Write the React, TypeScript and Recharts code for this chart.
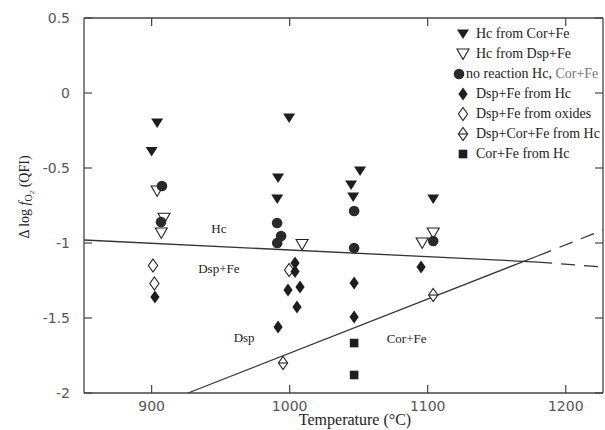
import React from "react";
import {
  ComposedChart,
  Scatter,
  XAxis,
  YAxis,
  Legend,
  ReferenceLine,
  ReferenceDot,
} from "recharts";

// temperature (°C) / delta log fO2 pairs
const hcFromCorFe = [
  { t: 904, v: -0.2 },
  { t: 900, v: -0.39 },
  { t: 999.6, v: -0.167 },
  { t: 991.6, v: -0.567 },
  { t: 991, v: -0.707 },
  { t: 1051, v: -0.52 },
  { t: 1044.5, v: -0.613 },
  { t: 1046, v: -0.693 },
  { t: 1104, v: -0.707 },
];
const hcFromDspFe = [
  { t: 904, v: -0.653 },
  { t: 909, v: -0.835 },
  { t: 907, v: -0.933 },
  { t: 1009, v: -1.01 },
  { t: 1104, v: -0.933 },
  { t: 1096, v: -1.0 },
];
const noReaction = [
  { t: 907.5, v: -0.62 },
  { t: 906.8, v: -0.86 },
  { t: 990.9, v: -0.867 },
  { t: 993.8, v: -0.953 },
  { t: 991, v: -1.0 },
  { t: 1046.7, v: -0.787 },
  { t: 1046.7, v: -1.033 },
  { t: 1104, v: -0.987 },
];
const dspFeFromHc = [
  { t: 902.4, v: -1.36 },
  { t: 1003.9, v: -1.133 },
  { t: 1003.9, v: -1.19 },
  { t: 998.8, v: -1.313 },
  { t: 1007.5, v: -1.293 },
  { t: 1005.3, v: -1.427 },
  { t: 991.6, v: -1.56 },
  { t: 1046.7, v: -1.267 },
  { t: 1046.7, v: -1.493 },
  { t: 1095.2, v: -1.16 },
];
const dspFeFromOxides = [
  { t: 901, v: -1.15 },
  { t: 902, v: -1.27 },
  { t: 999.6, v: -1.18 },
];
const dspCorFeFromHc = [
  { t: 995.2, v: -1.8 },
  { t: 1104, v: -1.347 },
];
const corFeFromHc = [
  { t: 1046.7, v: -1.667 },
  { t: 1046.7, v: -1.88 },
];

// phase boundaries: solid part, then dashed extrapolation
const hcBoundary = [
  { t: 851, v: -0.98 },
  { t: 1180, v: -1.127 },
  { t: 1227, v: -1.16 },
];
const corBoundary = [
  { t: 926.4, v: -2 },
  { t: 1180, v: -1.085 },
  { t: 1227, v: -0.913 },
];

const xTicks = [900, 1000, 1100, 1200];
const yTicks = [-2, -1.5, -1, -0.5, 0, 0.5];

const regionLabels = [
  { t: 948.7, v: -0.9, text: "Hc" },
  { t: 948.7, v: -1.167, text: "Dsp+Fe" },
  { t: 967, v: -1.627, text: "Dsp" },
  { t: 1084.7, v: -1.633, text: "Cor+Fe" },
];

const legendItems = [
  { kind: "triFill", text: "Hc from Cor+Fe" },
  { kind: "triOpen", text: "Hc from Dsp+Fe" },
  { kind: "circle", text: "no reaction Hc, Cor+Fe" },
  { kind: "diaFill", text: "Dsp+Fe from Hc" },
  { kind: "diaOpen", text: "Dsp+Fe from oxides" },
  { kind: "diaBar", text: "Dsp+Cor+Fe from Hc" },
  { kind: "square", text: "Cor+Fe from Hc" },
];

const INK = "#1e1e1e";
const AXIS = "#444";
const SERIF = "'Liberation Serif', 'Times New Roman', serif";
const TICKFONT = "'DejaVu Sans', sans-serif";
const X_MIN = 851;
const X_MAX = 1227;
const Y_MIN = -2;
const Y_MAX = 0.5;

const CHART_W = 605;
const CHART_H = 430;
const MARGIN = { top: 18, right: 2, bottom: 0, left: 0 };
const PLOT_TOP = MARGIN.top;
const PLOT_RIGHT = CHART_W - MARGIN.right;

function Glyph({ kind, cx, cy }: { kind: string; cx: number; cy: number }) {
  switch (kind) {
    case "triFill":
      return (
        <polygon
          points={`${cx - 6},${cy - 4.5} ${cx + 6},${cy - 4.5} ${cx},${cy + 5}`}
          fill={INK}
        />
      );
    case "triOpen":
      return (
        <polygon
          points={`${cx - 6},${cy - 5} ${cx + 6},${cy - 5} ${cx},${cy + 5.5}`}
          fill="#fff"
          stroke={INK}
          strokeWidth={1.1}
        />
      );
    case "circle":
      return <circle cx={cx} cy={cy} r={5.3} fill="#2a2a2a" />;
    case "diaFill":
      return (
        <polygon
          points={`${cx},${cy - 6.5} ${cx + 4.6},${cy} ${cx},${cy + 6.5} ${cx - 4.6},${cy}`}
          fill={INK}
        />
      );
    case "diaOpen":
      return (
        <polygon
          points={`${cx},${cy - 6.5} ${cx + 4.6},${cy} ${cx},${cy + 6.5} ${cx - 4.6},${cy}`}
          fill="#fff"
          stroke={INK}
          strokeWidth={1.1}
        />
      );
    case "diaBar":
      return (
        <g>
          <polygon
            points={`${cx},${cy - 6.5} ${cx + 4.6},${cy} ${cx},${cy + 6.5} ${cx - 4.6},${cy}`}
            fill="#fff"
            stroke={INK}
            strokeWidth={1.1}
          />
          <line x1={cx - 4.6} y1={cy} x2={cx + 4.6} y2={cy} stroke={INK} strokeWidth={1.1} />
        </g>
      );
    case "square":
      return <rect x={cx - 4.3} y={cy - 4.3} width={8.6} height={8.6} fill={INK} />;
    default:
      return <g />;
  }
}

const shapeOf = (kind: string) => (props: any) => {
  const { cx, cy } = props;
  if (cx == null || cy == null) return <g />;
  return <Glyph kind={kind} cx={cx} cy={cy} />;
};

// bottom tick + label, and the matching inward tick on the top frame edge
const BottomTick = (props: any) => {
  const { x, y, payload } = props;
  return (
    <g>
      <line x1={x} y1={y} x2={x} y2={y - 8} stroke={AXIS} strokeWidth={1.2} />
      <line x1={x} y1={PLOT_TOP} x2={x} y2={PLOT_TOP + 8} stroke={AXIS} strokeWidth={1.2} />
      <text x={x} y={y + 18} textAnchor="middle" fontFamily={TICKFONT} fontSize={14} fill="#555">
        {payload.value}
      </text>
    </g>
  );
};

// left tick + label, and the matching inward tick on the right frame edge
const LeftTick = (props: any) => {
  const { x, y, payload } = props;
  return (
    <g>
      <line x1={x} y1={y} x2={x + 8} y2={y} stroke={AXIS} strokeWidth={1.2} />
      <line x1={PLOT_RIGHT} y1={y} x2={PLOT_RIGHT - 8} y2={y} stroke={AXIS} strokeWidth={1.2} />
      <text x={x - 14} y={y + 5} textAnchor="end" fontFamily={TICKFONT} fontSize={14} fill="#555">
        {payload.value}
      </text>
    </g>
  );
};

// x-axis title, plus the top and right frame edges (the axis viewBox gives the plot's width and bottom)
const XTitle = (props: any) => {
  const vb = props.viewBox || {};
  const left = vb.x ?? 84;
  const right = vb.width != null ? left + vb.width : PLOT_RIGHT;
  const bottom = vb.y ?? 393;
  return (
    <g>
      <line x1={left} y1={PLOT_TOP} x2={right} y2={PLOT_TOP} stroke={AXIS} strokeWidth={1.3} />
      <line x1={right} y1={PLOT_TOP} x2={right} y2={bottom} stroke={AXIS} strokeWidth={1.3} />
      <text x={355} y={425} textAnchor="middle" fontFamily={SERIF} fontSize={16} fill="#222">
        Temperature (°C)
      </text>
    </g>
  );
};

const YTitle = () => (
  <text
    x={29}
    y={197}
    transform="rotate(-90, 29, 197)"
    textAnchor="middle"
    fontFamily={SERIF}
    fontSize={14}
    fill="#222"
  >
    Δ log <tspan fontStyle="italic">f</tspan>
    <tspan dy={3} fontSize={10}>O</tspan>
    <tspan dy={2} fontSize={7}>2</tspan>
    <tspan dy={-5}>{"  (QFI)"}</tspan>
  </text>
);

const renderLegend = () => (
  <div style={{ fontFamily: SERIF, fontSize: 14, color: "#222" }}>
    {legendItems.map((item, i) => {
      const squeeze = item.kind === "circle";
      return (
        <div
          key={item.text}
          style={{ position: "absolute", top: i * 20, left: 0, height: 20, whiteSpace: "nowrap" }}
        >
          <svg
            width={14}
            height={20}
            style={{ position: "absolute", left: squeeze ? -1 : 3, top: 0 }}
          >
            <Glyph kind={item.kind} cx={7} cy={10} />
          </svg>
          <span
            style={{
              position: "absolute",
              left: squeeze ? 13 : 23,
              top: 1,
              lineHeight: "18px",
            }}
          >
            {squeeze ? (
              <>
                no reaction Hc, <span style={{ color: "#777" }}>Cor+Fe</span>
              </>
            ) : (
              item.text
            )}
          </span>
        </div>
      );
    })}
  </div>
);

const seg = (pts: { t: number; v: number }[], a: number, b: number) => [
  { x: pts[a].t, y: pts[a].v },
  { x: pts[b].t, y: pts[b].v },
];

export default function App() {
  return (
    <div
      style={{ position: "absolute", left: 0, top: 0, width: CHART_W, height: CHART_H, background: "#fff" }}
    >
      <ComposedChart width={CHART_W} height={CHART_H} margin={MARGIN}>
        <XAxis
          type="number"
          dataKey="t"
          domain={[X_MIN, X_MAX]}
          ticks={xTicks}
          height={37}
          tickSize={0}
          tickMargin={0}
          tickLine={false}
          axisLine={{ stroke: AXIS, strokeWidth: 1.3 }}
          tick={<BottomTick />}
          label={<XTitle />}
        />
        <YAxis
          type="number"
          dataKey="v"
          domain={[Y_MIN, Y_MAX]}
          ticks={yTicks}
          width={84}
          tickSize={0}
          tickMargin={0}
          tickLine={false}
          axisLine={{ stroke: AXIS, strokeWidth: 1.3 }}
          tick={<LeftTick />}
          label={<YTitle />}
        />

        <ReferenceLine segment={seg(hcBoundary, 0, 1)} stroke="#333" strokeWidth={1.3} />
        <ReferenceLine segment={seg(hcBoundary, 1, 2)} stroke="#333" strokeWidth={1.3} strokeDasharray="14 9" />
        <ReferenceLine segment={seg(corBoundary, 0, 1)} stroke="#333" strokeWidth={1.3} />
        <ReferenceLine segment={seg(corBoundary, 1, 2)} stroke="#333" strokeWidth={1.3} strokeDasharray="14 9" />

        {regionLabels.map((r) => (
          <ReferenceDot
            key={r.text}
            x={r.t}
            y={r.v}
            r={0}
            fill="none"
            stroke="none"
            label={{
              value: r.text,
              position: "center",
              fontFamily: SERIF,
              fontSize: 13,
              fill: "#222",
            }}
          />
        ))}

        <Scatter name="Hc from Dsp+Fe" data={hcFromDspFe} shape={shapeOf("triOpen")} isAnimationActive={false} />
        <Scatter name="Dsp+Fe from oxides" data={dspFeFromOxides} shape={shapeOf("diaOpen")} isAnimationActive={false} />
        <Scatter name="Dsp+Cor+Fe from Hc" data={dspCorFeFromHc} shape={shapeOf("diaBar")} isAnimationActive={false} />
        <Scatter name="no reaction Hc, Cor+Fe" data={noReaction} shape={shapeOf("circle")} isAnimationActive={false} />
        <Scatter name="Hc from Cor+Fe" data={hcFromCorFe} shape={shapeOf("triFill")} isAnimationActive={false} />
        <Scatter name="Dsp+Fe from Hc" data={dspFeFromHc} shape={shapeOf("diaFill")} isAnimationActive={false} />
        <Scatter name="Cor+Fe from Hc" data={corFeFromHc} shape={shapeOf("square")} isAnimationActive={false} />

        <Legend
          layout="vertical"
          align="center"
          verticalAlign="middle"
          content={renderLegend}
          wrapperStyle={{ top: 24, left: 453, width: 152, height: 140 }}
        />
      </ComposedChart>
    </div>
  );
}
